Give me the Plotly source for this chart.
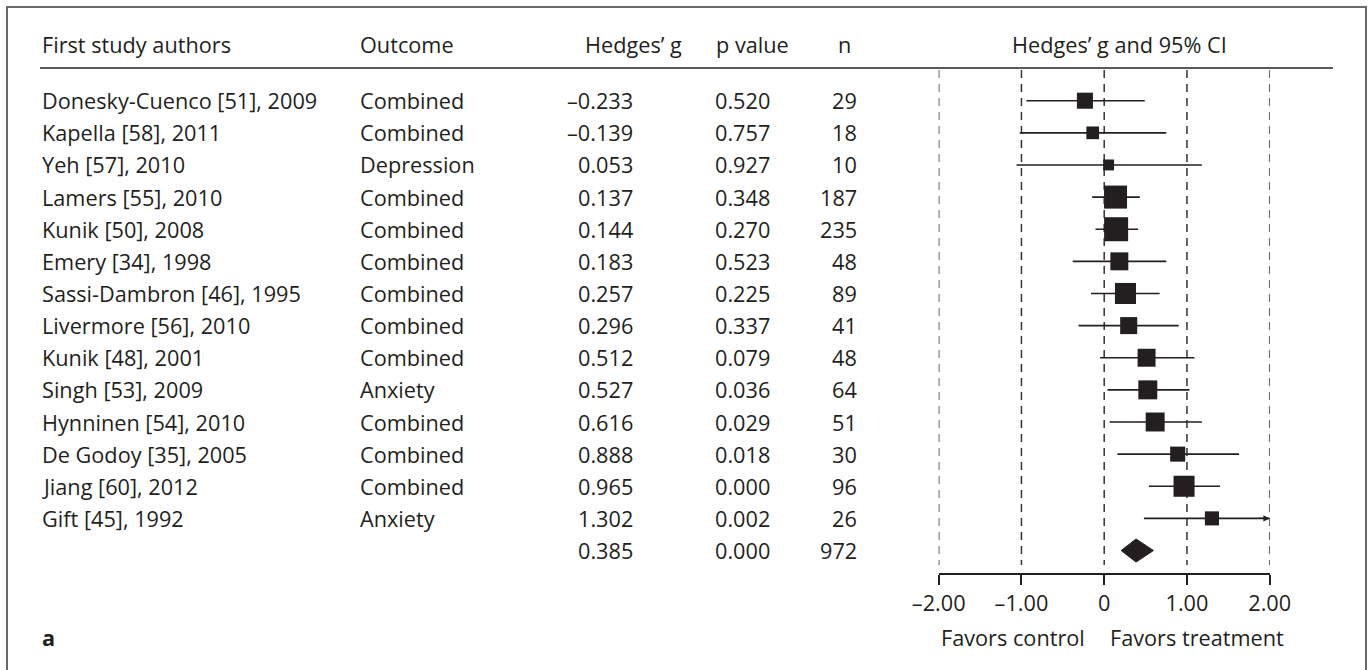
import math
import plotly.graph_objects as go

# ---- study data ----
authors = [
    "Donesky-Cuenco [51], 2009", "Kapella [58], 2011", "Yeh [57], 2010",
    "Lamers [55], 2010", "Kunik [50], 2008", "Emery [34], 1998",
    "Sassi-Dambron [46], 1995", "Livermore [56], 2010", "Kunik [48], 2001",
    "Singh [53], 2009", "Hynninen [54], 2010", "De Godoy [35], 2005",
    "Jiang [60], 2012", "Gift [45], 1992",
]
outcomes = [
    "Combined", "Combined", "Depression", "Combined", "Combined", "Combined",
    "Combined", "Combined", "Combined", "Anxiety", "Combined", "Combined",
    "Combined", "Anxiety",
]
hedges_g = [-0.233, -0.139, 0.053, 0.137, 0.144, 0.183, 0.257, 0.296,
            0.512, 0.527, 0.616, 0.888, 0.965, 1.302]
p_values = [0.520, 0.757, 0.927, 0.348, 0.270, 0.523, 0.225, 0.337,
            0.079, 0.036, 0.029, 0.018, 0.000, 0.002]
n_sizes = [29, 18, 10, 187, 235, 48, 89, 41, 48, 64, 51, 30, 96, 26]
ci_low = [-0.94, -1.02, -1.06, -0.145, -0.105, -0.38, -0.16, -0.31,
          -0.05, 0.04, 0.064, 0.16, 0.54, 0.48]
ci_high = [0.49, 0.75, 1.18, 0.43, 0.41, 0.75, 0.67, 0.90,
           1.09, 1.03, 1.18, 1.63, 1.40, 2.12]
rel_weight = [5.6, 3.5, 2.6, 11.5, 12.5, 7.0, 9.6, 6.3, 7.0, 7.8, 7.8,
              4.9, 9.6, 4.3]

# pooled estimate
pooled_g = 0.385
pooled_p = 0.000
pooled_n = 972
pooled_low = 0.205
pooled_high = 0.595

axis_ticks = [-2, -1, 0, 1, 2]
axis_ticktext = ["\u20132.00", "\u20131.00", "0", "1.00", "2.00"]

# ---- geometry (pixels) ----
W, H = 1370, 670
INK = "#231f20"
FONT = "Open Sans"
FS = 21.7

def px_x(p):
    return p / W

def px_y(p):
    return (H - p) / H

x_left_px, x_right_px = 938.7, 1269.7
plot_top_px, plot_bot_px = 70.0, 573.0
row1_px, row_step = 100.7, 32.13
y_top = 1 + (plot_top_px - row1_px) / row_step
y_bot = 1 + (plot_bot_px - row1_px) / row_step

rows = list(range(1, len(authors) + 1))
pooled_row = len(authors) + 1
xmin, xmax = axis_ticks[0], axis_ticks[-1]

fig = go.Figure()

# confidence interval whiskers (truncated at the axis limits)
wx, wy = [], []
for lo, hi, r in zip(ci_low, ci_high, rows):
    wx += [max(lo, xmin), min(hi, xmax), None]
    wy += [r, r, None]
fig.add_trace(go.Scatter(x=wx, y=wy, mode="lines",
                         line=dict(color=INK, width=1.6),
                         hoverinfo="skip", showlegend=False))

# study squares sized by relative weight
sizes = [math.sqrt(w) * 6.79 for w in rel_weight]
fig.add_trace(go.Scatter(x=hedges_g, y=rows, mode="markers",
                         marker=dict(symbol="square", size=sizes, color=INK,
                                     opacity=1, line=dict(width=0)),
                         cliponaxis=False, showlegend=False))

# pooled diamond
half_h = 0.36
fig.add_trace(go.Scatter(
    x=[pooled_low, pooled_g, pooled_high, pooled_g, pooled_low],
    y=[pooled_row, pooled_row - half_h, pooled_row, pooled_row + half_h, pooled_row],
    mode="lines", fill="toself", fillcolor=INK,
    line=dict(color=INK, width=1), showlegend=False, hoverinfo="skip"))

# arrows for intervals extending past the axis
annotations = []
for hi, r in zip(ci_high, rows):
    if hi > xmax:
        annotations.append(dict(x=xmax, y=r, ax=xmax - 0.15, ay=r,
                                xref="x", yref="y", axref="x", ayref="y",
                                showarrow=True, arrowhead=2, arrowsize=0.9,
                                arrowwidth=1.4, arrowcolor=INK, text=""))

# dashed reference lines
shapes = []
dash_bottom = 1 + (565 - row1_px) / row_step
for t in axis_ticks:
    shapes.append(dict(type="line", xref="x", yref="y", x0=t, x1=t,
                       y0=y_top, y1=dash_bottom, layer="below",
                       line=dict(color="#333333", width=1.5, dash="8px,6px")))

# header rule and panel frame
shapes.append(dict(type="line", xref="paper", yref="paper",
                   x0=px_x(40), x1=px_x(1333), y0=px_y(68), y1=px_y(68),
                   line=dict(color="#5a5a5a", width=2)))
shapes.append(dict(type="rect", xref="paper", yref="paper",
                   x0=px_x(7), x1=px_x(1366), y0=px_y(690), y1=px_y(7),
                   line=dict(color="#6a6a6a", width=2)))

def txt(text, x, y, anchor, yref="paper", size=FS, bold=False):
    if bold:
        text = "<b>" + text + "</b>"
    return dict(text=text, x=px_x(x), y=y, xref="paper", yref=yref,
                xanchor=anchor, yanchor="middle", showarrow=False,
                font=dict(family=FONT, size=size, color=INK))

def fmt_g(v):
    s = f"{v:.3f}"
    return s.replace("-", "\u2013")

# column headers
hy = px_y(45)
annotations += [
    txt("First study authors", 40, hy, "left"),
    txt("Outcome", 358, hy, "left"),
    txt("Hedges\u2019 g", 583, hy, "left"),
    txt("p value", 714, hy, "left"),
    txt("n", 836, hy, "left"),
    txt("Hedges\u2019 g and 95% CI", 1119, hy, "center"),
]

# table rows
for a, o, g, p, n, r in zip(authors, outcomes, hedges_g, p_values, n_sizes, rows):
    annotations += [
        txt(a, 40, r, "left", yref="y"),
        txt(o, 358, r, "left", yref="y"),
        txt(fmt_g(g), 635, r, "right", yref="y"),
        txt(f"{p:.3f}", 713, r, "left", yref="y"),
        txt(str(n), 859, r, "right", yref="y"),
    ]
annotations += [
    txt(fmt_g(pooled_g), 635, pooled_row, "right", yref="y"),
    txt(f"{pooled_p:.3f}", 713, pooled_row, "left", yref="y"),
    txt(str(pooled_n), 859, pooled_row, "right", yref="y"),
]

# direction labels and panel letter
annotations += [
    txt("Favors control", 1087, px_y(637), "right"),
    txt("Favors treatment", 1108, px_y(637), "left"),
    txt("a", 40, px_y(637), "left", bold=True),
]

fig.update_layout(
    template="none",
    width=W, height=H, autosize=False,
    margin=dict(l=0, r=0, t=0, b=0, pad=0, autoexpand=False),
    paper_bgcolor="white", plot_bgcolor="white",
    showlegend=False,
    shapes=shapes, annotations=annotations,
    xaxis=dict(domain=[px_x(x_left_px), px_x(x_right_px)],
               range=[xmin, xmax], tickvals=axis_ticks, ticktext=axis_ticktext,
               showgrid=False, zeroline=False, showline=True, automargin=False,
               linecolor=INK, linewidth=1.5, ticks="outside", ticklen=10,
               tickwidth=1.5, tickcolor=INK,
               tickfont=dict(family=FONT, size=FS, color=INK),
               fixedrange=True),
    yaxis=dict(domain=[px_y(plot_bot_px), px_y(plot_top_px)],
               range=[y_bot, y_top], visible=False, automargin=False,
               fixedrange=True),
)

fig.write_html("out.html")
